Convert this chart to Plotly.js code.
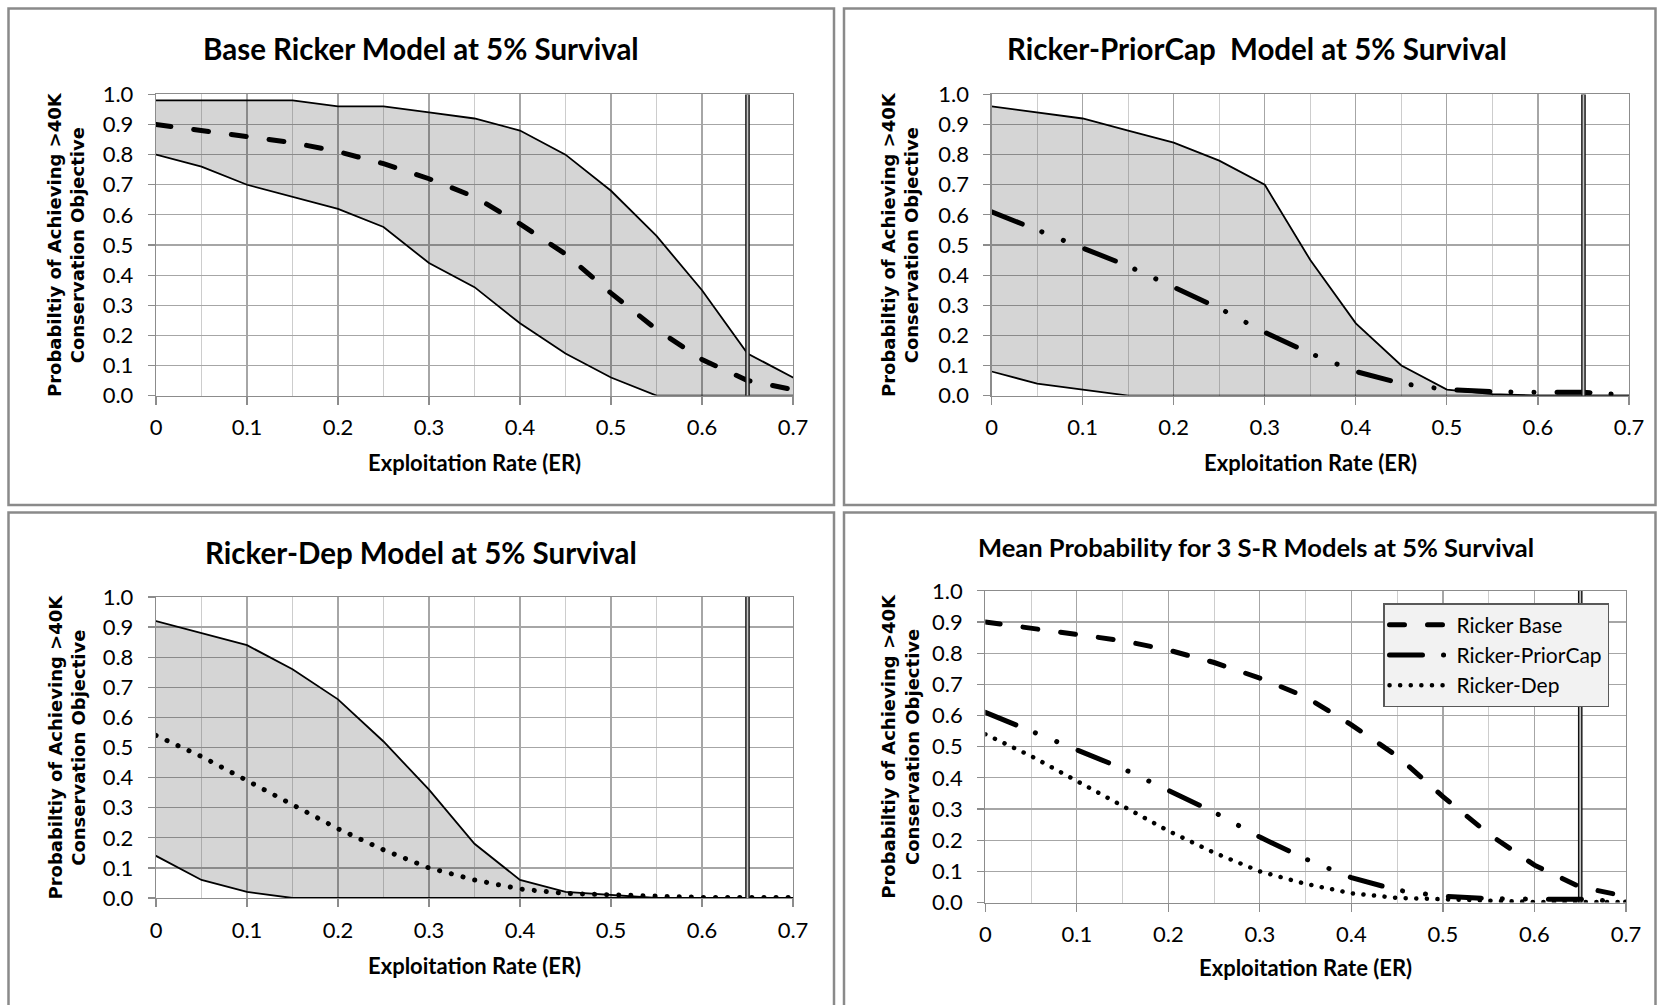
<!DOCTYPE html>
<html>
<head>
<meta charset="utf-8">
<script src="https://cdn.plot.ly/plotly-3.0.1.min.js"></script>
<style>
html,body{margin:0;padding:0;background:#fff;}
#chart{width:1663px;height:1005px;}
.scatterlayer .js-line, .legendlines path { stroke-linecap: round; }
</style>
</head>
<body>
<div id="chart"></div>
<script>
// ---------------- data ----------------
const exploitationRate = [0, 0.05, 0.1, 0.15, 0.2, 0.25, 0.3, 0.35, 0.4, 0.45, 0.5, 0.55, 0.6, 0.65, 0.7];

const baseUpper = [0.98, 0.98, 0.98, 0.98, 0.96, 0.96, 0.94, 0.92, 0.88, 0.80, 0.68, 0.53, 0.35, 0.14, 0.06];
const baseLower = [0.80, 0.76, 0.70, 0.66, 0.62, 0.56, 0.44, 0.36, 0.24, 0.14, 0.06, 0.0, 0.0, 0.0, 0.0];
const baseMean  = [0.90, 0.88, 0.86, 0.84, 0.81, 0.77, 0.72, 0.66, 0.57, 0.47, 0.34, 0.22, 0.12, 0.05, 0.02];

const priorCapUpper = [0.96, 0.94, 0.92, 0.88, 0.84, 0.78, 0.70, 0.45, 0.24, 0.10, 0.02, 0.005, 0.0, 0.0, 0.0];
const priorCapLower = [0.08, 0.04, 0.02, 0.0, 0.0, 0.0, 0.0, 0.0, 0.0, 0.0, 0.0, 0.0, 0.0, 0.0, 0.0];
const priorCapMean  = [0.61, 0.55, 0.49, 0.43, 0.36, 0.29, 0.21, 0.14, 0.08, 0.04, 0.02, 0.013, 0.011, 0.011, 0.002];

const depUpper = [0.92, 0.88, 0.84, 0.76, 0.66, 0.52, 0.36, 0.18, 0.06, 0.02, 0.01, 0.0, 0.0, 0.0, 0.0];
const depLower = [0.14, 0.06, 0.02, 0.0, 0.0, 0.0, 0.0, 0.0, 0.0, 0.0, 0.0, 0.0, 0.0, 0.0, 0.0];
const depMean  = [0.54, 0.47, 0.39, 0.31, 0.23, 0.16, 0.10, 0.06, 0.03, 0.015, 0.01, 0.005, 0.002, 0.002, 0.002];

const referenceER = [0.65, 0.65];
const referenceProb = [0, 1];

const xTickValues = [0, 0.1, 0.2, 0.3, 0.4, 0.5, 0.6, 0.7];
const xTickLabels = ['0', '0.1', '0.2', '0.3', '0.4', '0.5', '0.6', '0.7'];
const yTickValues = [0, 0.1, 0.2, 0.3, 0.4, 0.5, 0.6, 0.7, 0.8, 0.9, 1.0];
const yTickLabels = ['0.0', '0.1', '0.2', '0.3', '0.4', '0.5', '0.6', '0.7', '0.8', '0.9', '1.0'];

const panelTitles = [
  'Base Ricker Model at 5% Survival',
  'Ricker-PriorCap  Model at 5% Survival',
  'Ricker-Dep Model at 5% Survival',
  'Mean Probability for 3 S-R Models at 5% Survival'
];
const seriesNames = ['Ricker Base', 'Ricker-PriorCap', 'Ricker-Dep'];
const xAxisTitle = 'Exploitation Rate (ER)';
const yAxisTitle = 'Probabiltiy of Achieving >40K<br>Conservation Objective';

// ---------------- layout geometry (pixels) ----------------
const W = 1663, H = 1005;
const px = v => v / W;
const py = v => 1 - v / H;

const plots = [
  {l: 156, r: 793, t: 94.4, b: 395.6, titleX: 421, titleY: 48, titleSize: 29.5, yTitleX: 66, xTitleY: 462},
  {l: 991.6, r: 1629, t: 94.4, b: 395.6, titleX: 1257, titleY: 48, titleSize: 29.5, yTitleX: 900, xTitleY: 462},
  {l: 156, r: 793, t: 597, b: 898, titleX: 421, titleY: 552, titleSize: 29.5, yTitleX: 66, xTitleY: 965},
  {l: 985.3, r: 1626, t: 590.8, b: 902.6, titleX: 1256, titleY: 547, titleSize: 25.5, yTitleX: 900, xTitleY: 967}
];
const panelBoxes = [
  {x0: 8.5, x1: 834, y0: 8.5, y1: 505},
  {x0: 844, x1: 1655.5, y0: 8.5, y1: 505},
  {x0: 8.5, x1: 834, y0: 512.5, y1: 1010},
  {x0: 844, x1: 1655.5, y0: 512.5, y1: 1010}
];

// ---------------- styles ----------------
const tickFont = {family: 'Lato, "Open Sans", sans-serif', size: 22, color: '#000'};
const boldFont = 'Lato, "Open Sans", sans-serif';
const fillColor = 'rgba(0,0,0,0.165)';
const baseDash = '15px,23px';
const priorDash = '33px,21px,0.1px,23px,0.1px,23px';
const depDash = '0.1px,12px';

function ax(i) { return i === 1 ? '' : String(i); }

const traces = [];
function band(i, lower, upper) {
  traces.push({x: exploitationRate, y: lower, xaxis: 'x' + ax(i), yaxis: 'y' + ax(i), mode: 'lines',
    line: {color: '#000', width: 1.8}, showlegend: false, hoverinfo: 'skip'});
  traces.push({x: exploitationRate, y: upper, xaxis: 'x' + ax(i), yaxis: 'y' + ax(i), mode: 'lines',
    fill: 'tonexty', fillcolor: fillColor,
    line: {color: '#000', width: 1.8}, showlegend: false, hoverinfo: 'skip'});
}
function meanLine(i, y, dash, width, name, showlegend) {
  traces.push({x: exploitationRate, y: y, xaxis: 'x' + ax(i), yaxis: 'y' + ax(i), mode: 'lines',
    name: name, line: {color: '#000', width: width, dash: dash}, showlegend: showlegend});
}
function refLine(i) {
  traces.push({x: referenceER, y: referenceProb, xaxis: 'x' + ax(i), yaxis: 'y' + ax(i), mode: 'lines',
    line: {color: '#111', width: 4.6}, showlegend: false, hoverinfo: 'skip'});
  traces.push({x: referenceER, y: referenceProb, xaxis: 'x' + ax(i), yaxis: 'y' + ax(i), mode: 'lines',
    line: {color: '#c4c4c4', width: 1.8}, showlegend: false, hoverinfo: 'skip'});
}

band(1, baseLower, baseUpper);
meanLine(1, baseMean, baseDash, 5, seriesNames[0], false);
refLine(1);

band(2, priorCapLower, priorCapUpper);
meanLine(2, priorCapMean, priorDash, 5, seriesNames[1], false);
refLine(2);

band(3, depLower, depUpper);
meanLine(3, depMean, depDash, 5, seriesNames[2], false);
refLine(3);

refLine(4);
meanLine(4, baseMean, baseDash, 5, seriesNames[0], true);
meanLine(4, priorCapMean, priorDash, 5, seriesNames[1], true);
meanLine(4, depMean, '0.1px,10.5px', 4.5, seriesNames[2], true);

const layout = {
  width: W, height: H,
  margin: {l: 0, r: 0, t: 0, b: 0},
  paper_bgcolor: '#fff', plot_bgcolor: '#fff',
  showlegend: true,
  legend: {
    x: px(1383), y: py(603), xanchor: 'left', yanchor: 'top',
    traceorder: 'normal',
    bgcolor: '#f2f2f2', bordercolor: '#595959', borderwidth: 1.5,
    font: {family: 'Lato, "Open Sans", sans-serif', size: 21, color: '#000'},
    itemwidth: 62, tracegroupgap: 0
  },
  shapes: [],
  annotations: []
};

plots.forEach((p, k) => {
  const i = k + 1;
  layout['xaxis' + ax(i)] = {
    domain: [px(p.l), px(p.r)], range: [0, 0.7], anchor: 'y' + ax(i),
    tickmode: 'array', tickvals: xTickValues, ticktext: xTickLabels,
    showgrid: true, gridcolor: '#a6a6a6', gridwidth: 1.2,
    minor: {dtick: 0.05, tick0: 0, showgrid: true, gridcolor: '#cdcdcd', gridwidth: 1, ticks: ''},
    ticks: 'outside', ticklen: 8, tickcolor: '#8c8c8c', tickwidth: 1.2,
    showline: true, linecolor: '#8c8c8c', linewidth: 1.2, mirror: true,
    zeroline: false, tickfont: tickFont, ticklabelstandoff: 4, fixedrange: true
  };
  layout['yaxis' + ax(i)] = {
    domain: [py(p.b), py(p.t)], range: [0, 1], anchor: 'x' + ax(i),
    tickmode: 'array', tickvals: yTickValues, ticktext: yTickLabels,
    showgrid: true, gridcolor: '#a6a6a6', gridwidth: 1.2,
    ticks: 'outside', ticklen: 7, tickcolor: '#8c8c8c', tickwidth: 1.2,
    showline: true, linecolor: '#8c8c8c', linewidth: 1.2, mirror: true,
    zeroline: false, tickfont: tickFont, ticklabelstandoff: 10, fixedrange: true
  };
  layout.annotations.push({
    text: panelTitles[k], xref: 'paper', yref: 'paper', x: px(p.titleX), y: py(p.titleY),
    xanchor: 'center', yanchor: 'middle', showarrow: false,
    font: {family: boldFont, size: p.titleSize, color: '#000', weight: 'bold'}
  });
  layout.annotations.push({
    text: xAxisTitle, xref: 'paper', yref: 'paper', x: px((p.l + p.r) / 2), y: py(p.xTitleY),
    xanchor: 'center', yanchor: 'middle', showarrow: false,
    font: {family: boldFont, size: 22, color: '#000', weight: 'bold'}
  });
  layout.annotations.push({
    text: yAxisTitle, xref: 'paper', yref: 'paper', x: px(p.yTitleX), y: py((p.t + p.b) / 2),
    xanchor: 'center', yanchor: 'middle', showarrow: false, textangle: -90,
    font: {family: '"DejaVu Sans", Verdana, sans-serif', size: 18, color: '#000', weight: 'bold'}
  });
});

panelBoxes.forEach(b => {
  layout.shapes.push({type: 'rect', xref: 'paper', yref: 'paper', layer: 'below',
    x0: px(b.x0), x1: px(b.x1), y0: py(b.y1), y1: py(b.y0),
    line: {color: '#8a8a8a', width: 2.5}, fillcolor: 'rgba(0,0,0,0)'});
});

Plotly.newPlot('chart', traces, layout, {displayModeBar: false, staticPlot: true});
</script>
</body>
</html>
